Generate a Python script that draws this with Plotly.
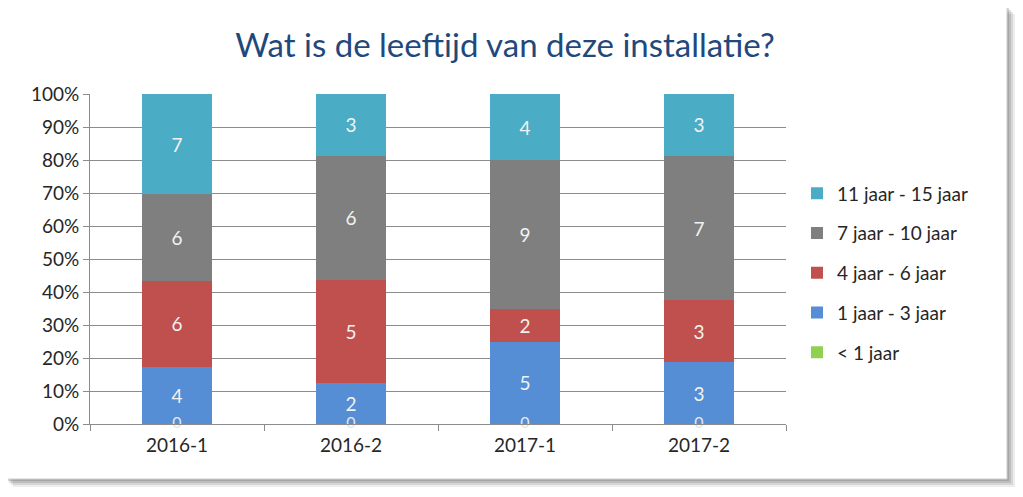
import plotly.graph_objects as go

categories = ["2016-1", "2016-2", "2017-1", "2017-2"]
series_names = ["< 1 jaar", "1 jaar - 3 jaar", "4 jaar - 6 jaar", "7 jaar - 10 jaar", "11 jaar - 15 jaar"]
lt1 = [0, 0, 0, 0]
y1_3 = [4, 2, 5, 3]
y4_6 = [6, 5, 2, 3]
y7_10 = [6, 6, 9, 7]
y11_15 = [7, 3, 4, 3]
colors = ["#92D050", "#558ED5", "#C0504D", "#7F7F7F", "#4BACC6"]
title_text = "Wat is de leeftijd van deze installatie?"
pct_ticks = list(range(0, 101, 10))
pct_labels = [f"{v}%" for v in pct_ticks]

# page has an 8px body margin; work in page pixels and convert
OFF = 8
PAGE_W, PAGE_H = 1023, 497
W, H = PAGE_W - OFF, PAGE_H - OFF
X0, X1, Y0, Y1 = 90, 786, 94, 424
L, T = X0 - OFF, Y0 - OFF
R, B = W - (X1 - OFF), H - (Y1 - OFF)
pw, ph = X1 - X0, Y1 - Y0
FONT = "Lato, Carlito, sans-serif"

def px(x):
    return (x - X0) / pw

def py(y):
    return (Y1 - y) / ph

fig = go.Figure()
series = [lt1, y1_3, y4_6, y7_10, y11_15]
label_color = "#F2F2F2"
for i, (name, vals) in enumerate(zip(series_names, series)):
    fig.add_trace(go.Bar(
        x=categories, y=vals, name=name,
        marker=dict(color=colors[i], line=dict(width=0)),
        text=[str(v) for v in vals] if i > 0 else None,
        textposition="inside", insidetextanchor="middle",
        textfont=dict(size=19, color=label_color, family=FONT),
        constraintext="none",
        legendgroup=f"g{i}", legendrank=10 - i,
        hoverinfo="skip",
    ))

# zero labels for "< 1 jaar"
fig.add_trace(go.Scatter(
    x=categories, y=lt1, mode="text", text=[str(v) for v in lt1],
    textposition="middle center",
    textfont=dict(size=16, color="#E6E6E6", family=FONT),
    showlegend=False, hoverinfo="skip", cliponaxis=False,
))

shapes = []
for k, op in enumerate([0.10, 0.14, 0.18, 0.22]):
    off = 8 - 2 * k
    shapes.append(dict(type="rect", xref="paper", yref="paper",
                       x0=px(5 + off), x1=px(1007 + off), y0=py(479 + off), y1=py(6 + off),
                       fillcolor=f"rgba(80,80,80,{op})", line=dict(width=0), layer="below"))
shapes.append(dict(type="rect", xref="paper", yref="paper",
                   x0=px(5), x1=px(1007), y0=py(479), y1=py(6),
                   fillcolor="white", line=dict(width=1, color="#D0D0D0"), layer="below"))

fig.update_layout(
    width=W, height=H,
    margin=dict(l=L, r=R, t=T, b=B),
    barmode="stack", barnorm="percent", bargap=0.6,
    paper_bgcolor="white", plot_bgcolor="rgba(0,0,0,0)",
    font=dict(family=FONT, size=19, color="#262626"),
    title=dict(text=title_text, x=(505 - OFF) / W, xref="container", xanchor="center",
               y=1 - (45 - OFF) / H, yref="container", yanchor="middle",
               font=dict(size=33, color="#1F497D", family=FONT)),
    legend=dict(x=px(797), xanchor="left", y=py(273), yanchor="middle",
                traceorder="grouped", tracegroupgap=12,
                font=dict(size=19, color="#262626"), bgcolor="rgba(0,0,0,0)",
                itemwidth=30),
    shapes=shapes,
    showlegend=True,
)
fig.update_yaxes(range=[0, 100], tickvals=pct_ticks, ticktext=pct_labels,
                 showgrid=True, gridcolor="#8C8C8C", gridwidth=1,
                 showline=True, linecolor="#8C8C8C", linewidth=1,
                 ticks="outside", ticklen=6, tickcolor="#8C8C8C",
                 tickfont=dict(size=19, color="#262626"), zeroline=False)
fig.update_xaxes(type="category", showline=True, linecolor="#8C8C8C", linewidth=1,
                 ticks="outside", tickson="boundaries", ticklen=6, tickcolor="#8C8C8C",
                 ticklabelstandoff=4,
                 tickfont=dict(size=19, color="#262626"), showgrid=False)

fig.write_html("out.html")
